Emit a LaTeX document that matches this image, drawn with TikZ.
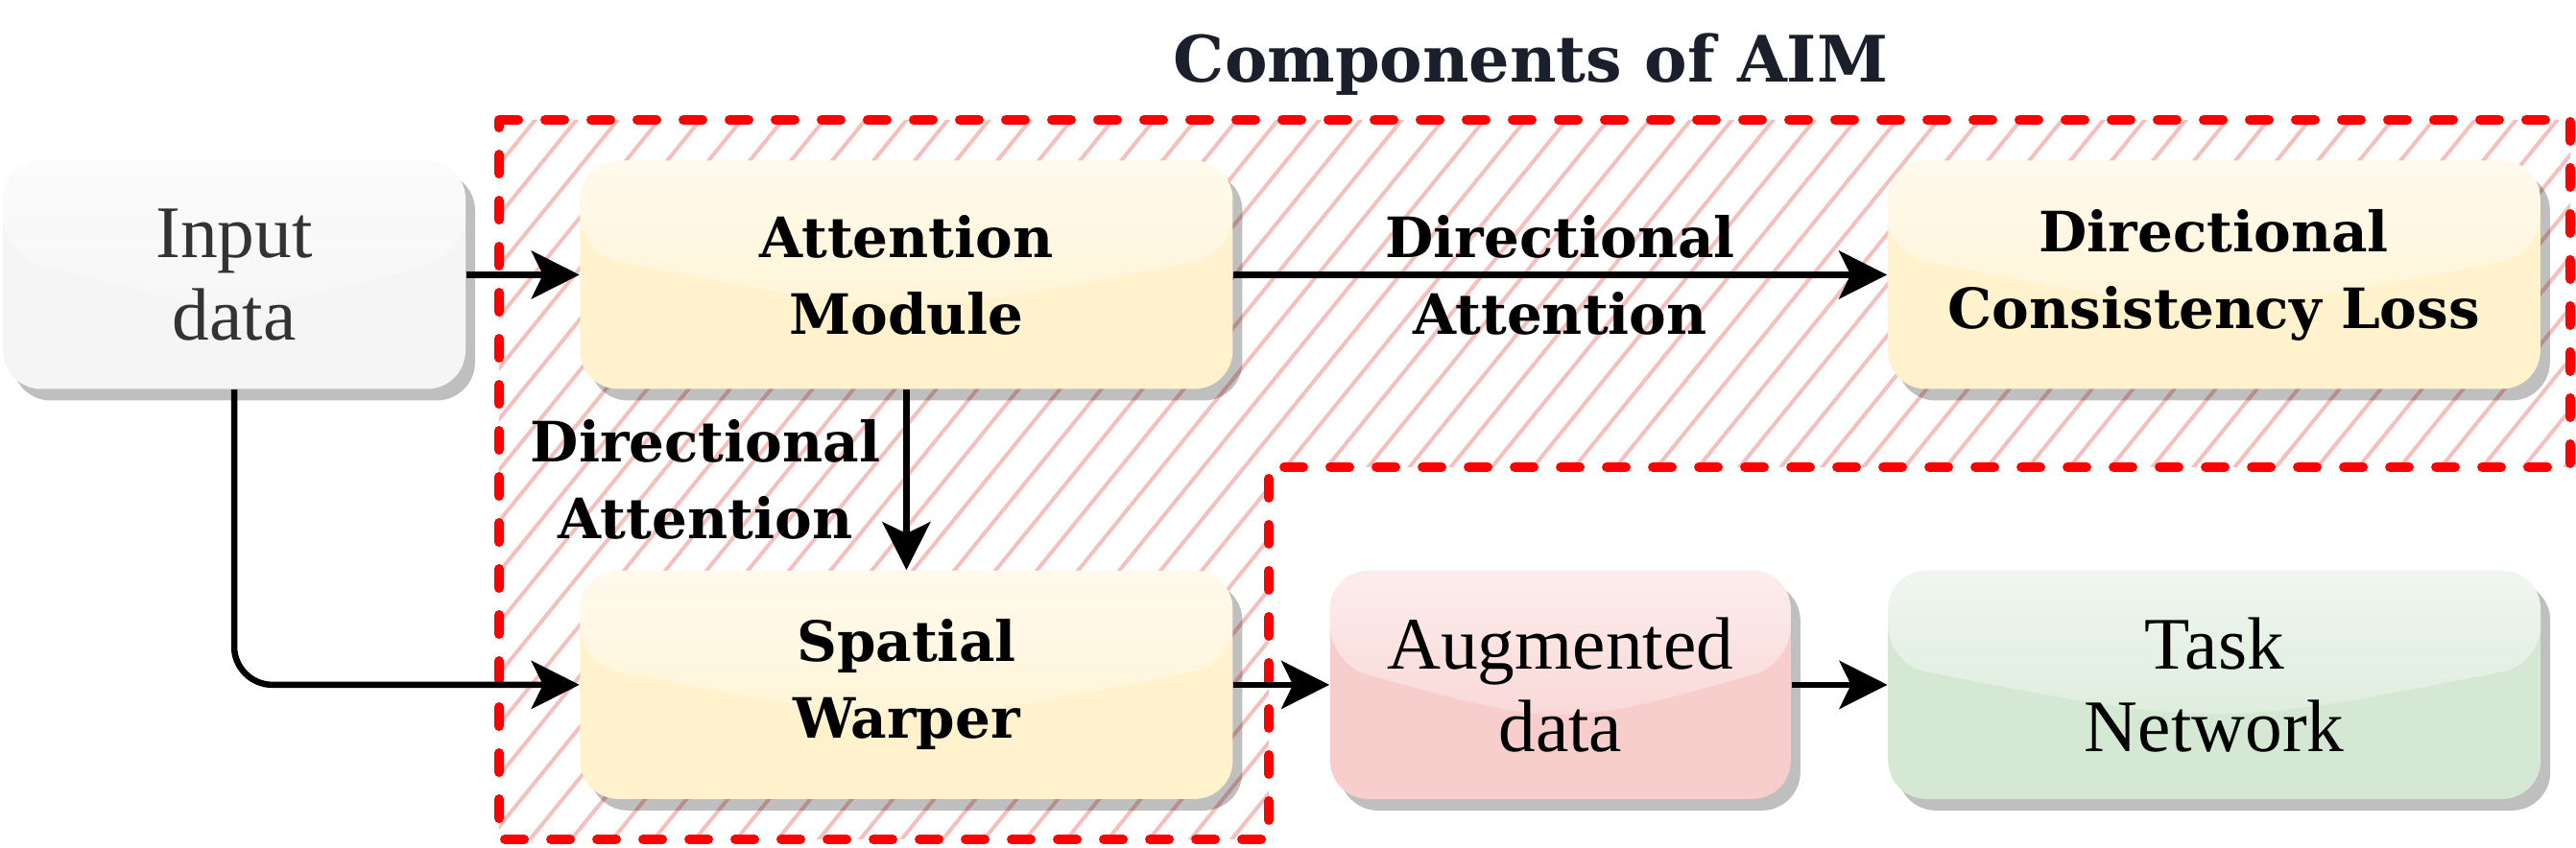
\documentclass[tikz,border=0pt]{standalone}
\usepackage{fontspec}
\setmainfont{Liberation Serif}[BoldFont={DejaVu Serif Bold}]
\usepackage{xcolor}
\usetikzlibrary{positioning,shadows,fadings,calc,arrows.meta}
\definecolor{grau}{HTML}{F5F5F5}
\definecolor{gelb}{HTML}{FFF2CC}
\definecolor{rosa}{HTML}{F8CECC}
\definecolor{gruen}{HTML}{D5E8D4}
\definecolor{schraffur}{HTML}{F4BFBD}
\definecolor{titelfarbe}{HTML}{1B1F2B}
\definecolor{textgrau}{HTML}{333333}
\tikzstyle{block} = [rectangle,
	rounded corners=0.4cm,
	minimum height=2.38cm,
	inner sep=0pt,
	align=center,
	font=\fontsize{22}{24.5}\selectfont,
	drop shadow={shadow xshift=0.1cm, shadow yshift=-0.12cm, fill=black, opacity=0.25},
	path picture={
		\fill[white, fill opacity=0.65, path fading=south]
		(path picture bounding box.north west) --
		($(path picture bounding box.north west)!0.41!(path picture bounding box.south west)$)
		.. controls ($(path picture bounding box.north)!0.69!(path picture bounding box.south)$) ..
		($(path picture bounding box.north east)!0.41!(path picture bounding box.south east)$)
		-- (path picture bounding box.north east) -- cycle;
	}
	]
\tikzstyle{modul} = [block,
	fill=gelb,
	minimum width=6.8cm,
	font=\bfseries\fontsize{16.5}{22.8}\selectfont
	]
\tikzstyle{pfeil} = [draw,
	-{Stealth[length=0.5cm, width=0.5cm, inset=0.12cm]},
	line width=0.065cm, rounded corners=0.4cm
	]
\tikzstyle{beschriftung} = [align=center, inner sep=0pt,
	font=\bfseries\fontsize{16.5}{22.8}\selectfont
	]
\newcommand{\aimbereich}{(5.2,7.59) -- (26.78,7.59) -- (26.78,3.97) -- (13.22,3.97) -- (13.22,0.09) -- (5.2,0.09) -- cycle}

\begin{document}
\begin{tikzpicture}
    \useasboundingbox (0,0) rectangle (26.84,8.84);

    % schraffierter Bereich
    \begin{scope}
    	\clip \aimbereich;
    	\foreach \i in {0,...,66}
    		\draw[schraffur, line width=0.04cm] (-1+\i*0.43,0) -- ++(51:12);
    \end{scope}
    \draw[red, line width=0.1cm, line cap=round, dash pattern=on 0.2cm off 0.28cm] \aimbereich;

    \node [font=\bfseries\fontsize{19}{22}\selectfont, text=titelfarbe] (titel) at (15.95,8.17) {Components of AIM};

    \node [block, fill=grau, minimum width=4.82cm, text=textgrau] (input) at (2.44,5.975) {Input\\data};
    \node [modul, right=1.18cm of input] (attention) {Attention\\Module};
    \node [modul, right=6.81cm of attention] (dcl) {Directional\\Consistency Loss};
    \node [modul, below=1.88cm of attention] (warper) {Spatial\\Warper};
    \node [block, fill=rosa, minimum width=4.8cm, right=1cm of warper] (augmented) {Augmented\\data};
    \node [block, fill=gruen, minimum width=6.8cm, right=1cm of augmented] (task) {Task\\Network};

    \draw [pfeil] (input) -- (attention);
    \draw [pfeil] (attention) --
    	node[beschriftung] {Directional\\Attention}
    	(dcl);
    \draw [pfeil] (attention) --
    	node[beschriftung, left=0.24cm] {Directional\\Attention}
    	(warper);
    \draw [pfeil] (input) |- (warper);
    \draw [pfeil] (warper) -- (augmented);
    \draw [pfeil] (augmented) -- (task);
\end{tikzpicture}
\end{document}
